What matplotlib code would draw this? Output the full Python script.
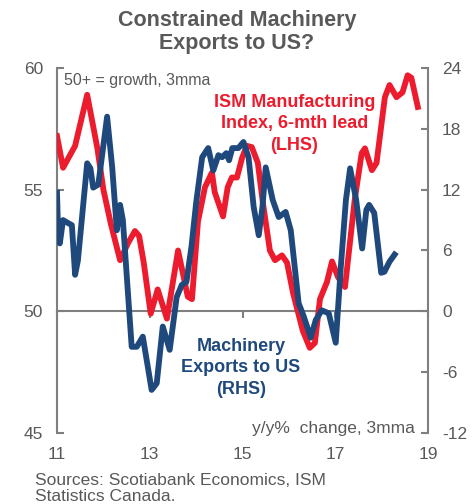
import matplotlib
matplotlib.use('Agg')
import matplotlib.pyplot as plt
import numpy as np

plt.rcParams['font.family'] = ['Liberation Sans', 'DejaVu Sans']
plt.rcParams['axes.unicode_minus'] = False

# ISM manufacturing index, 6-month lead (LHS) - traced points (decimal year, index)
ism_year = [11.00, 11.13, 11.39, 11.65, 11.87, 12.00, 12.16, 12.36, 12.53, 12.68,
            12.77, 12.87, 13.02, 13.17, 13.37, 13.61, 13.82, 13.91, 14.04, 14.19,
            14.34, 14.40, 14.58, 14.68, 14.77, 14.88, 14.99, 15.09, 15.20, 15.33,
            15.44, 15.59, 15.70, 15.85, 15.96, 16.09, 16.30, 16.45, 16.56, 16.67,
            16.82, 16.93, 17.06, 17.21, 17.42, 17.57, 17.64, 17.79, 17.89, 18.07,
            18.17, 18.32, 18.45, 18.56, 18.64, 18.78]
ism_value = [57.2, 55.9, 56.8, 58.9, 56.7, 55.0, 53.6, 52.1, 52.8, 53.3,
             53.1, 52.0, 49.9, 50.9, 49.7, 52.5, 50.6, 50.5, 53.7, 55.1,
             55.7, 54.9, 53.9, 55.1, 55.5, 55.5, 56.3, 56.8, 56.75, 56.1,
             54.45, 52.5, 52.1, 52.3, 52.0, 50.75, 49.2, 48.5, 48.7, 50.5,
             51.2, 52.05, 51.4, 51.0, 54.6, 56.5, 56.7, 55.8, 56.1, 58.8,
             59.3, 58.8, 59.0, 59.7, 59.6, 58.4]

# Machinery exports to US, y/y % change 3mma (RHS) - traced points
exp_year = [11.00, 11.02, 11.06, 11.13, 11.24, 11.32, 11.39, 11.45, 11.65, 11.72,
            11.78, 11.89, 12.08, 12.19, 12.29, 12.36, 12.42, 12.61, 12.72, 12.85,
            13.04, 13.15, 13.28, 13.43, 13.58, 13.69, 13.79, 13.90, 14.00, 14.13,
            14.26, 14.37, 14.48, 14.56, 14.65, 14.71, 14.78, 14.91, 15.02, 15.13,
            15.24, 15.35, 15.43, 15.50, 15.65, 15.78, 15.93, 16.04, 16.21, 16.32,
            16.47, 16.58, 16.71, 16.86, 17.01, 17.12, 17.23, 17.32, 17.45, 17.58,
            17.67, 17.73, 17.84, 17.99, 18.06, 18.17, 18.28]
exp_value = [11.7, 8.3, 6.7, 9.0, 8.7, 8.5, 3.6, 5.0, 14.6, 14.1,
             12.2, 12.5, 19.2, 14.2, 8.0, 10.5, 9.0, -3.5, -3.5, -2.5,
             -7.75, -7.1, -1.5, -3.8, 1.4, 2.6, 2.9, 6.4, 10.7, 15.2,
             16.1, 13.9, 15.4, 15.2, 15.6, 14.9, 16.1, 16.1, 16.7, 15.2,
             10.3, 7.5, 10.3, 14.2, 11.0, 9.3, 9.8, 8.0, 0.8, -0.5,
             -2.6, -0.85, 0.1, -0.2, -3.1, 4.4, 11.0, 14.1, 11.0, 6.2,
             10.0, 10.5, 9.7, 3.8, 3.9, 4.9, 5.6]

x_ticks = [11, 13, 15, 17, 19]
left_ticks = [45, 50, 55, 60]
right_ticks = [-12, -6, 0, 6, 12, 18, 24]

RED = '#EC1C2E'
BLUE = '#1F497D'
GREY = '#595959'
AXGREY = '#7F7F7F'

fig = plt.figure(figsize=(4.74, 5.04), dpi=100)
ax = fig.add_axes([0.1203, 0.1409, 0.7827, 0.7242])
ax2 = ax.twinx()

ax.plot(ism_year, ism_value, color=RED, lw=4.2, solid_joinstyle='round', zorder=3)
ax2.plot(exp_year, exp_value, color=BLUE, lw=4.2, solid_joinstyle='round', zorder=3)

ax.set_xlim(11, 19)
ax.set_ylim(45, 60)
ax2.set_ylim(-12, 24)
ax.set_yticks(left_ticks)
ax2.set_yticks(right_ticks)

# zero line with small ticks pointing down
for s in ['top', 'right']:
  ax.spines[s].set_visible(False)
for s in ['top', 'left', 'bottom']:
  ax2.spines[s].set_visible(False)
ax.spines['bottom'].set_position(('data', 50))
ax.spines['bottom'].set_color(AXGREY)
ax.spines['bottom'].set_linewidth(1.5)
ax.spines['left'].set_color(AXGREY)
ax.spines['left'].set_linewidth(1.5)
ax2.spines['right'].set_color(AXGREY)
ax2.spines['right'].set_linewidth(1.5)

ax.set_xticks(x_ticks)
ax.tick_params(axis='x', direction='out', length=5, width=1.5, color=AXGREY, labelbottom=False)
ax.tick_params(axis='y', direction='in', length=5, width=1.5, color=AXGREY,
               labelsize=12.5, labelcolor=GREY, pad=10)
ax2.tick_params(axis='y', direction='in', length=5, width=1.5, color=AXGREY,
                labelsize=12.5, labelcolor=GREY, pad=10)

lab = ax.secondary_xaxis('bottom')
lab.set_xticks(x_ticks)
lab.tick_params(length=0, labelsize=12.5, labelcolor=GREY, pad=10)
lab.spines['bottom'].set_visible(False)

fig.text(0.5, 0.936, 'Constrained Machinery\nExports to US?', ha='center', va='center',
         fontsize=15.5, fontweight='bold', color=GREY, linespacing=1.1)

ax.text(0.02, 0.985, '50+ = growth, 3mma', transform=ax.transAxes, ha='left', va='top',
        fontsize=11.5, color=GREY)
ax.text(0.64, 0.93, 'ISM Manufacturing\nIndex, 6-mth lead\n(LHS)', transform=ax.transAxes,
        ha='center', va='top', fontsize=13, fontweight='bold', color=RED, linespacing=1.35)
ax.text(0.496, 0.26, 'Machinery\nExports to US\n(RHS)', transform=ax.transAxes,
        ha='center', va='top', fontsize=13, fontweight='bold', color=BLUE, linespacing=1.33)
ax.text(0.965, -0.008, 'y/y%  change, 3mma', transform=ax.transAxes, ha='right', va='bottom',
        fontsize=12.5, color=GREY)

fig.text(0.074, 0.062, 'Sources: Scotiabank Economics, ISM\nStatistics Canada.', ha='left',
         va='top', fontsize=12.5, color=GREY, linespacing=1.1)

fig.savefig('out.png', dpi=100)
